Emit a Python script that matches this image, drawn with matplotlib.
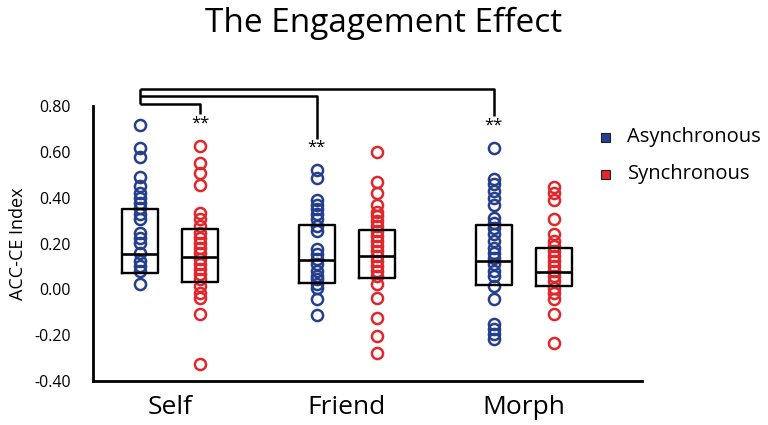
import matplotlib
matplotlib.use("Agg")
import matplotlib.pyplot as plt
from matplotlib.patches import Rectangle
import numpy as np

plt.rcParams['font.family'] = ['Open Sans', 'DejaVu Sans']

categories = ["Self", "Friend", "Morph"]
conditions = ["Asynchronous", "Synchronous"]

self_async = [0.716, 0.617, 0.578, 0.489, 0.450, 0.421, 0.400, 0.378, 0.356, 0.327,
              0.305, 0.247, 0.225, 0.203, 0.160, 0.123, 0.102, 0.080, 0.022]
self_sync = [0.625, 0.552, 0.508, 0.457, 0.334, 0.305, 0.276, 0.247, 0.225, 0.203,
             0.182, 0.160, 0.131, 0.109, 0.087, 0.065, 0.044, 0.015, -0.015, -0.036,
             -0.109, -0.327]
friend_async = [0.523, 0.484, 0.392, 0.370, 0.349, 0.327, 0.305, 0.276, 0.254, 0.174,
                0.153, 0.131, 0.109, 0.080, 0.058, 0.044, 0.022, 0.007, -0.044, -0.113]
friend_sync = [0.598, 0.468, 0.421, 0.366, 0.337, 0.320, 0.298, 0.276, 0.254, 0.232,
               0.211, 0.189, 0.167, 0.145, 0.123, 0.102, 0.080, 0.058, 0.022, -0.036,
               -0.123, -0.203, -0.279]
morph_async = [0.617, 0.482, 0.458, 0.428, 0.399, 0.370, 0.312, 0.290, 0.269, 0.240,
               0.211, 0.182, 0.160, 0.138, 0.109, 0.080, 0.058, 0.015, -0.044, -0.153,
               -0.174, -0.196, -0.218]
morph_sync = [0.447, 0.421, 0.392, 0.305, 0.240, 0.211, 0.189, 0.167, 0.145, 0.123,
              0.102, 0.080, 0.058, 0.036, 0.007, -0.015, -0.044, -0.109, -0.232]

# box statistics (q1, median, q3)
async_q1 = [0.070, 0.026, 0.017]
async_med = [0.155, 0.128, 0.123]
async_q3 = [0.350, 0.283, 0.279]
sync_q1 = [0.030, 0.051, 0.015]
sync_med = [0.142, 0.145, 0.077]
sync_q3 = [0.262, 0.261, 0.179]

yticks = [-0.40, -0.20, 0.00, 0.20, 0.40, 0.60, 0.80]

blue = "#263f8c"
red = "#e0282c"

fig = plt.figure(figsize=(7.68, 4.25), dpi=100)
ax = fig.add_axes([0.121, 0.1035, 0.715, 0.647])

off = 0.17
bw = 0.203
groups_async = [self_async, friend_async, morph_async]
groups_sync = [self_sync, friend_sync, morph_sync]

for i in range(len(categories)):
    for vals, xpos, col in [(groups_async[i], i - off, blue), (groups_sync[i], i + off, red)]:
        ax.plot(np.full(len(vals), xpos), vals, 'o', ms=8.0, mfc='none', mec=col,
                mew=1.8, zorder=3, clip_on=False)

stats = []
positions = []
for i in range(len(categories)):
    stats.append(dict(med=async_med[i], q1=async_q1[i], q3=async_q3[i],
                      whislo=async_q1[i], whishi=async_q3[i], fliers=[]))
    positions.append(i - off)
    stats.append(dict(med=sync_med[i], q1=sync_q1[i], q3=sync_q3[i],
                      whislo=sync_q1[i], whishi=sync_q3[i], fliers=[]))
    positions.append(i + off)
ax.bxp(stats, positions=positions, widths=bw, showcaps=False, showfliers=False,
       boxprops=dict(color='black', lw=1.7),
       medianprops=dict(color='black', lw=1.9),
       whiskerprops=dict(lw=0), manage_ticks=False, zorder=4)

ax.set_xlim(-0.435, 2.667)
ax.set_ylim(-0.40, 0.80)
ax.set_yticks(yticks)
ax.set_yticklabels([f"{t:.2f}" for t in yticks], fontsize=11.5)
ax.set_xticks(range(len(categories)))
ax.set_xticklabels(categories, fontsize=19)
ax.tick_params(axis='both', length=0)
ax.tick_params(axis='x', pad=10)
ax.tick_params(axis='y', pad=16)
for s in ['top', 'right']:
    ax.spines[s].set_visible(False)
for s in ['left', 'bottom']:
    ax.spines[s].set_linewidth(2)
ax.set_ylabel("ACC-CE Index", fontsize=13, labelpad=5)

# significance brackets
x0 = -off
lines_y = [0.876, 0.843, 0.811]
ends = [(2 - off, 0.758), (1 - off, 0.654), (off, 0.767)]
kw = dict(color='black', lw=1.8, clip_on=False, solid_capstyle='butt')
ax.plot([x0, x0], [lines_y[0], lines_y[2]], **kw)
for ly, (xe, ye) in zip(lines_y, ends):
    ax.plot([x0, xe, xe], [ly, ly, ye], **kw)
star_pos = [(off, 0.722), (1 - off, 0.617), (2 - off, 0.714)]
for xs, ys in star_pos:
    ax.text(xs, ys, "**", ha='center', va='center', fontsize=12)

# legend
for yy, col, lab in [(0.678, blue, conditions[0]), (0.590, red, conditions[1])]:
    fig.patches.append(Rectangle((0.783, yy - 0.011), 0.0115, 0.021, transform=fig.transFigure,
                                 facecolor=col, edgecolor='#222222', lw=0.8))
    fig.text(0.817, yy, lab, fontsize=14.5, ha='left', va='center')

fig.suptitle("The Engagement Effect", x=0.5, y=0.985, fontsize=24)

fig.savefig("out.png", dpi=100)
